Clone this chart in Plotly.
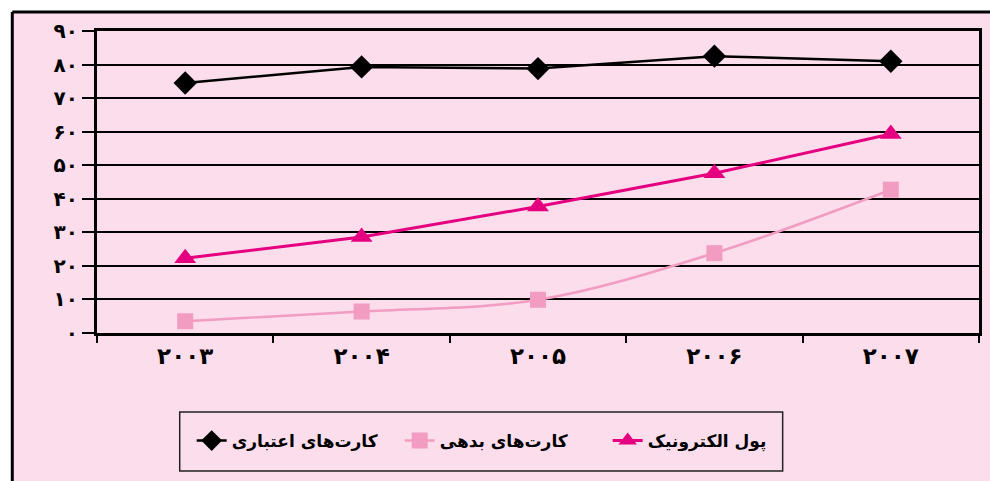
import plotly.graph_objects as go

years = ["2003", "2004", "2005", "2006", "2007"]
year_labels = ["۲۰۰۳", "۲۰۰۴", "۲۰۰۵", "۲۰۰۶", "۲۰۰۷"]
credit_cards = [74.5, 79.3, 78.8, 82.5, 81.0]
debit_cards = [3.5, 6.4, 9.9, 23.8, 42.7]
e_money = [22.3, 28.6, 37.7, 47.6, 59.3]
y_ticks = [0, 10, 20, 30, 40, 50, 60, 70, 80, 90]
y_tick_labels = ["۰", "۱۰", "۲۰", "۳۰", "۴۰", "۵۰", "۶۰", "۷۰", "۸۰", "۹۰"]
names = ["کارت‌های اعتباری", "کارت‌های بدهی", "پول الکترونیک"]

PINK_BG = "#FBDDEB"
W, H = 990, 481
L, R, T, B = 97, 8, 31, 148
pw, ph = W - L - R, H - T - B


def px_x(x):
    return (x - L) / pw


def px_y(y):
    return (H - B - y) / ph


fig = go.Figure()
fig.add_trace(go.Scatter(
    x=years, y=credit_cards, name=names[0], mode="lines+markers",
    line=dict(color="black", width=2.5),
    marker=dict(symbol="diamond", size=18, color="black")))
fig.add_trace(go.Scatter(
    x=years, y=debit_cards, name=names[1], mode="lines+markers",
    line=dict(color="#F29CC2", width=2.5, shape="spline"),
    marker=dict(symbol="square", size=16, color="#F29CC2")))
fig.add_trace(go.Scatter(
    x=years, y=e_money, name=names[2], mode="lines+markers",
    line=dict(color="#E4007F", width=3),
    marker=dict(symbol="triangle-up", size=19, color="#E4007F")))

shapes = [
    dict(type="rect", xref="paper", yref="paper", x0=px_x(-20), x1=px_x(W + 20),
         y0=px_y(12), y1=px_y(-20), fillcolor="white", line_width=0, layer="below"),
    dict(type="rect", xref="paper", yref="paper", x0=px_x(-20), x1=px_x(12),
         y0=px_y(H + 20), y1=px_y(-20), fillcolor="white", line_width=0, layer="below"),
    dict(type="line", xref="paper", yref="paper", x0=px_x(12), x1=px_x(W + 20),
         y0=px_y(12), y1=px_y(12), line=dict(color="black", width=3)),
    dict(type="line", xref="paper", yref="paper", x0=px_x(12), x1=px_x(12),
         y0=px_y(12), y1=px_y(H + 20), line=dict(color="black", width=3)),
    dict(type="rect", xref="paper", yref="paper", x0=px_x(180), x1=px_x(785),
         y0=px_y(471), y1=px_y(412), line=dict(color="#222", width=1.5)),
]

fig.update_layout(
    width=W, height=H, autosize=False,
    margin=dict(l=L, r=R, t=T, b=B, pad=0),
    paper_bgcolor=PINK_BG, plot_bgcolor=PINK_BG,
    font=dict(family="DejaVu Sans", color="black"),
    shapes=shapes,
    showlegend=True,
    legend=dict(
        orientation="h", x=px_x(192), xanchor="left", y=px_y(441), yanchor="middle",
        bgcolor="rgba(0,0,0,0)", borderwidth=0,
        entrywidth=163, entrywidthmode="pixels",
        font=dict(family="DejaVu Sans", size=17, weight="bold", color="black"),
    ),
)
fig.update_xaxes(
    type="category", categoryorder="array", categoryarray=years,
    tickvals=years, ticktext=year_labels, range=[-0.5, 4.5],
    tickson="boundaries", ticks="outside", ticklen=7, tickwidth=1.5, tickcolor="black",
    showline=True, linewidth=3, linecolor="black", mirror=True,
    showgrid=False, zeroline=False,
    tickfont=dict(family="DejaVu Sans", size=23, weight="bold", color="black"),
)
fig.update_yaxes(
    range=[0, 90], tickvals=y_ticks, ticktext=y_tick_labels,
    ticks="outside", ticklen=12, tickwidth=1.5, tickcolor="black",
    showline=True, linewidth=3, linecolor="black", mirror=True,
    showgrid=True, gridcolor="black", gridwidth=1.5, zeroline=False,
    tickfont=dict(family="DejaVu Sans", size=20, weight="bold", color="black"),
)

fig.write_html("out.html")
